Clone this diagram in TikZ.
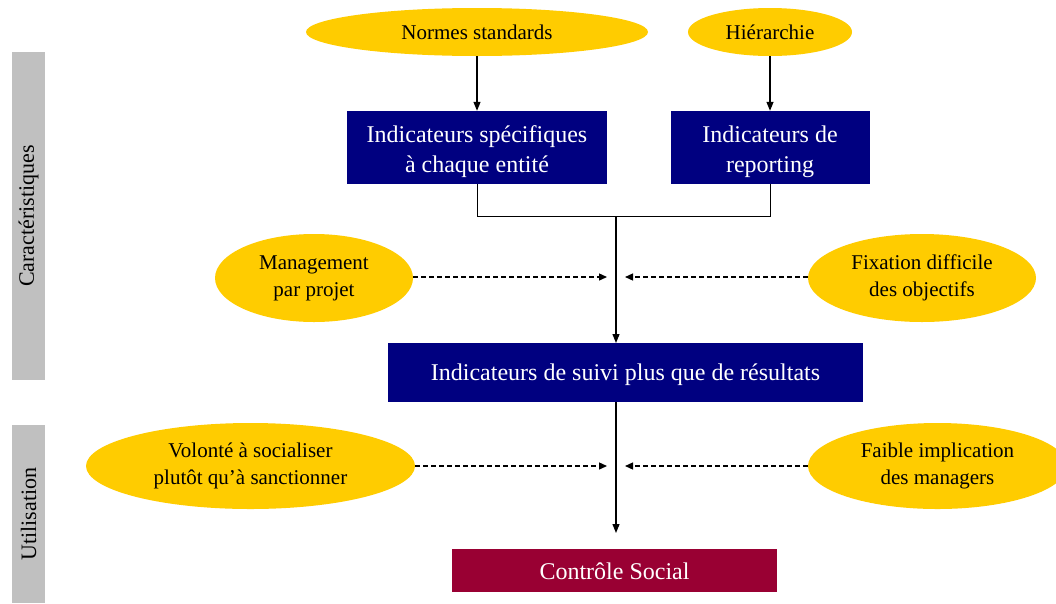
\documentclass[tikz,border=0pt]{standalone}
\usepackage{fontspec}
\setmainfont{Liberation Serif}
\usetikzlibrary{shapes.geometric,arrows.meta}
\definecolor{ylw}{HTML}{FFCC00}
\definecolor{navyb}{HTML}{000080}
\definecolor{crim}{HTML}{990033}
\definecolor{grayb}{HTML}{C0C0C0}
\tikzset{
  oval/.style={ellipse, fill=ylw, inner sep=0pt, align=center, font=\fontsize{21}{27}\selectfont},
  bluebox/.style={rectangle, fill=navyb, text=white, inner sep=0pt, align=center, font=\fontsize{24}{30}\selectfont},
  boxtext/.style={text=white, inner sep=0pt, align=center, font=\fontsize{24}{30}\selectfont},
  redbox/.style={rectangle, fill=crim, text=white, inner sep=0pt, align=center, font=\fontsize{24}{30}\selectfont},
  sidebar/.style={rectangle, fill=grayb, inner sep=0pt, font=\fontsize{22}{26}\selectfont},
  arr/.style={-{Triangle[length=9pt,width=7pt]}, line width=1.2pt},
  darr/.style={-{Triangle[length=8pt,width=7pt]}, line width=1.3pt, dash pattern=on 5pt off 3pt},
  conn/.style={line width=1pt}
}
\begin{document}
\begin{tikzpicture}[x=1pt,y=-1pt]
\useasboundingbox (0,0) rectangle (1056,603);
\fill[white] (0,0) rectangle (1056,603);
% side bars
\node[sidebar, minimum width=33pt, minimum height=328pt] (bar1) at (28.5,216) {};
\node[rotate=90, font=\fontsize{22}{26}\selectfont] (t1) at (bar1.center) {Caractéristiques};
\node[sidebar, minimum width=33pt, minimum height=178pt] (bar2) at (28.5,514) {};
\node[rotate=90, font=\fontsize{22}{26}\selectfont] (t2) at (bar2.center) {Utilisation};
% top ellipses
\node[oval, minimum width=342pt, minimum height=48pt] (normes) at (477,32) {Normes standards};
\node[oval, minimum width=164pt, minimum height=48pt] (hier) at (770,32) {Hiérarchie};
% blue boxes
\node[bluebox, minimum width=260pt, minimum height=73pt] (b1) at (477,147.5) {};
\node[boxtext] (b1t) at (477,151.5) {Indicateurs spécifiques\\à chaque entité};
\node[bluebox, minimum width=199pt, minimum height=73pt] (b2) at (770,147.5) {};
\node[boxtext] (b2t) at (770,151.5) {Indicateurs de\\reporting};
\draw[arr] (normes.south) -- (b1.north);
\draw[arr] (hier.south) -- (b2.north);
% bracket
\coordinate (jl) at (477,216);
\coordinate (jr) at (770,216);
\coordinate (jm) at (616,216);
\draw[conn] (b1.south) -- (jl) -- (jr) -- (b2.south);
\node[bluebox, minimum width=475pt, minimum height=59pt] (b3) at (625.5,372.5) {};
\node[boxtext] (b3t) at (625.5,375) {Indicateurs de suivi plus que de résultats};
\coordinate (b3n) at (616,343);
\draw[arr] (jm) -- (b3n);
% middle ellipses
\node[oval, minimum width=198pt, minimum height=88pt] (mgmt) at (314,278) {Management\\par projet};
\node[oval, minimum width=228pt, minimum height=88pt] (fix) at (922,278) {Fixation difficile\\des objectifs};
\coordinate (m1) at (607,277);
\coordinate (m2) at (625,277);
\draw[darr] (mgmt.east |- m1) -- (m1);
\draw[darr] (fix.west |- m2) -- (m2);
% bottom
\node[redbox, minimum width=325pt, minimum height=43pt] (cs) at (614.5,570.5) {};
\node[boxtext] (cst) at (614.5,571.5) {Contrôle Social};
\coordinate (b3s) at (616,402);
\coordinate (csn) at (616,533);
\draw[arr] (b3s) -- (csn);
\node[oval, minimum width=329pt, minimum height=86pt] (vol) at (250.5,466) {Volonté à socialiser\\plutôt qu’à sanctionner};
\node[oval, minimum width=259pt, minimum height=86pt] (faib) at (937.5,466) {Faible implication\\des managers};
\coordinate (u1) at (607,466);
\coordinate (u2) at (625,466);
\draw[darr] (vol.east) -- (u1);
\draw[darr] (faib.west) -- (u2);
\end{tikzpicture}
\end{document}
